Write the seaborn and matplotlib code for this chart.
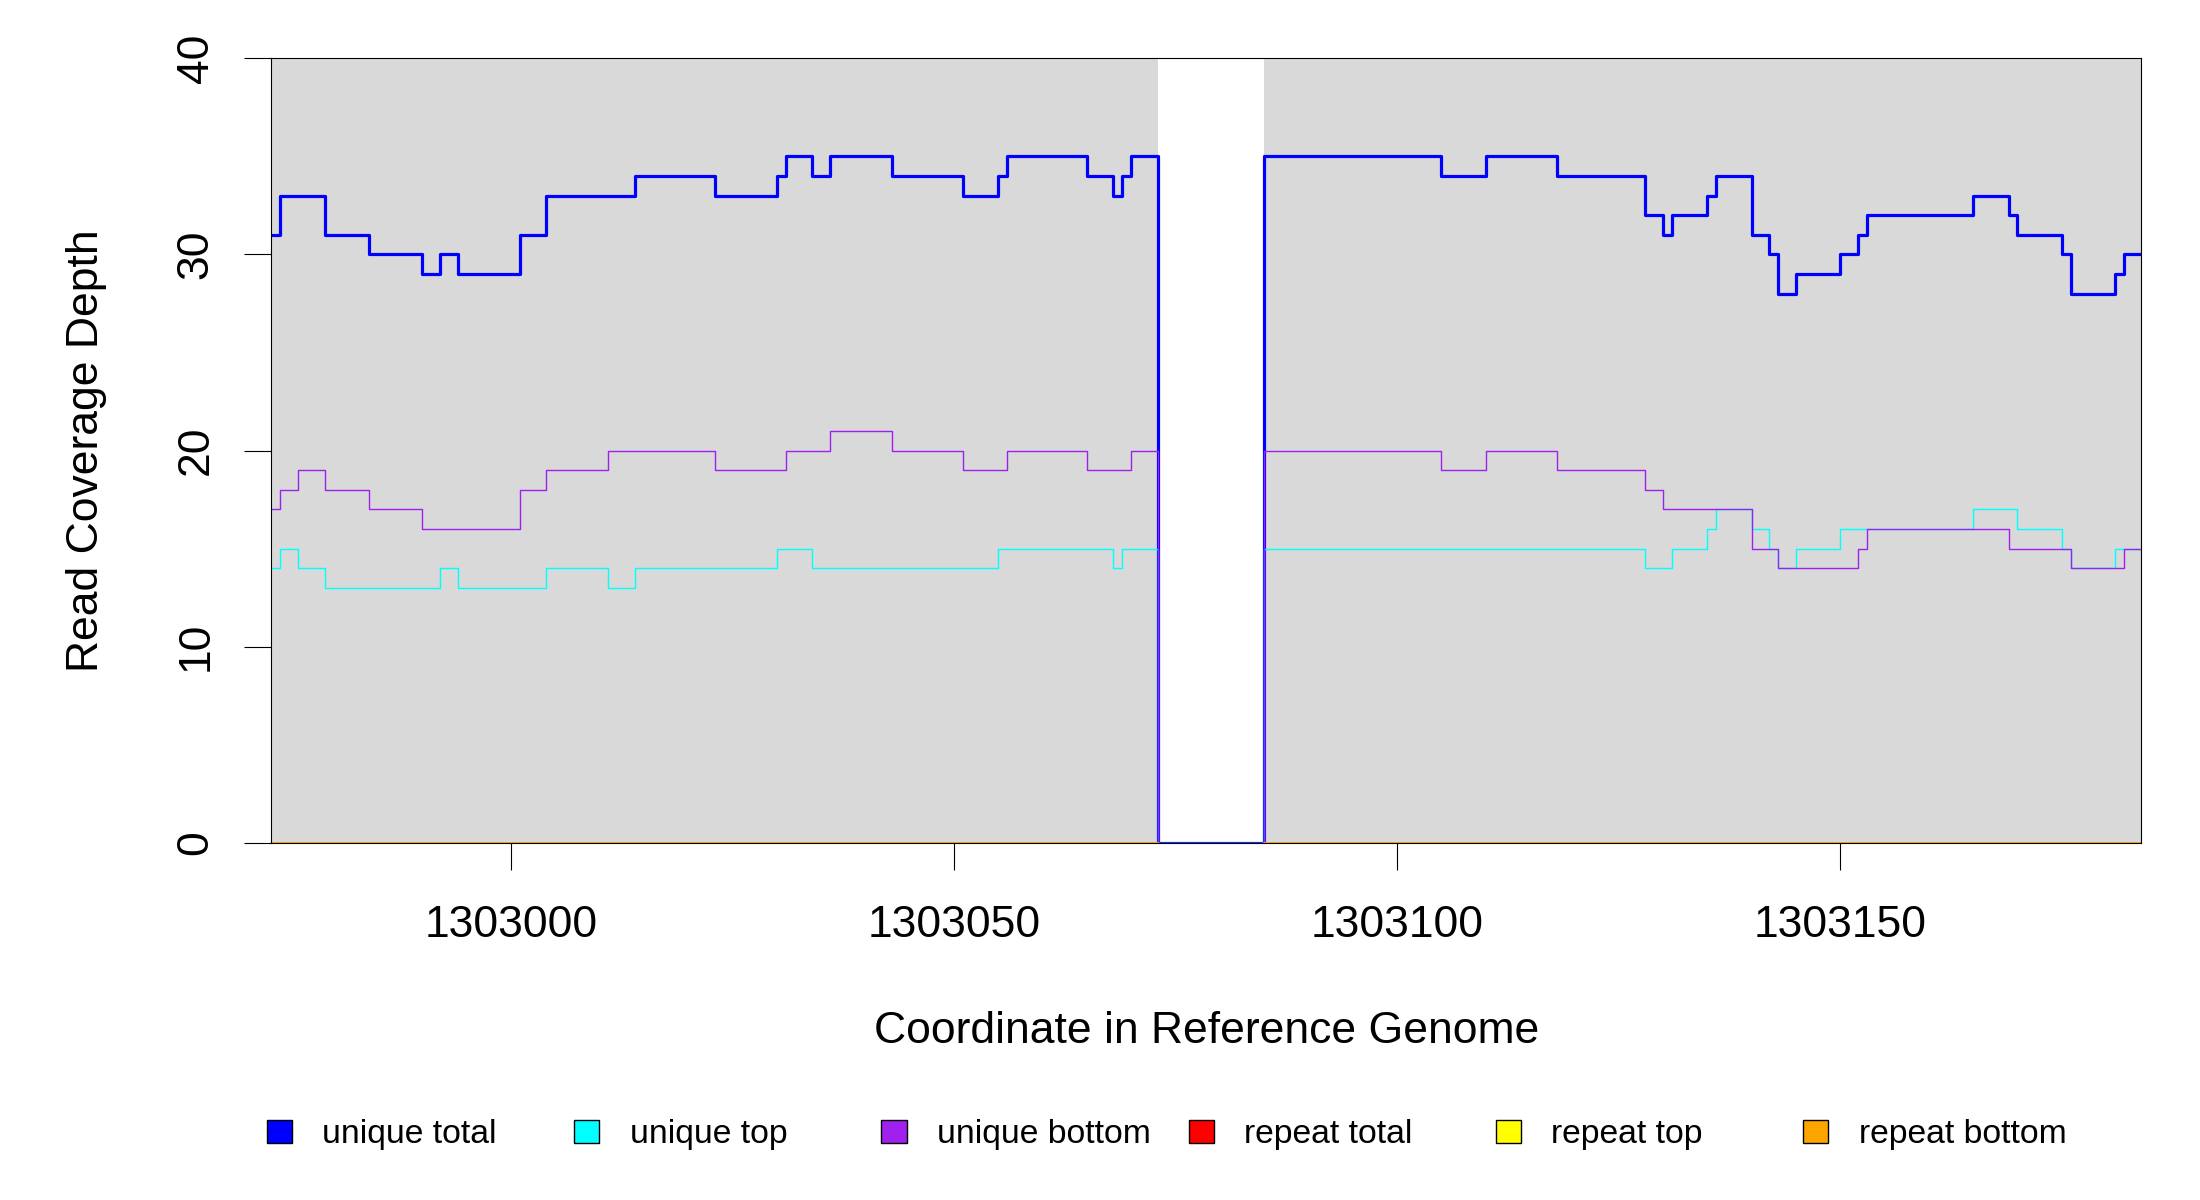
import numpy as np
import matplotlib
matplotlib.use("Agg")
import matplotlib.pyplot as plt
from matplotlib.patches import Patch
import seaborn as sns

# coverage steps: each value holds from its start position up to the next start
pos_end = 1303184

unique_total_starts = [1302973, 1302974, 1302979, 1302984, 1302990, 1302992, 1302994,
                       1303001, 1303004, 1303014, 1303023, 1303030, 1303031, 1303034,
                       1303036, 1303043, 1303051, 1303055, 1303056, 1303065, 1303068,
                       1303069, 1303070, 1303073, 1303085, 1303105, 1303110, 1303118,
                       1303128, 1303130, 1303131, 1303135, 1303136, 1303140, 1303142,
                       1303143, 1303145, 1303150, 1303152, 1303153, 1303165, 1303169,
                       1303170, 1303175, 1303176, 1303181, 1303182]
unique_total_depth = [31, 33, 31, 30, 29, 30, 29, 31, 33, 34, 33, 34, 35, 34, 35, 34,
                      33, 34, 35, 34, 33, 34, 35, 0, 35, 34, 35, 34, 32, 31, 32, 33,
                      34, 31, 30, 28, 29, 30, 31, 32, 33, 32, 31, 30, 28, 29, 30]

unique_top_starts = [1302973, 1302974, 1302976, 1302979, 1302992, 1302994, 1303004,
                     1303011, 1303014, 1303030, 1303034, 1303055, 1303068, 1303069,
                     1303073, 1303085, 1303128, 1303131, 1303135, 1303136, 1303140,
                     1303142, 1303143, 1303145, 1303150, 1303165, 1303170, 1303175,
                     1303176, 1303181]
unique_top_depth = [14, 15, 14, 13, 14, 13, 14, 13, 14, 15, 14, 15, 14, 15, 0, 15,
                    14, 15, 16, 17, 16, 15, 14, 15, 16, 17, 16, 15, 14, 15]

unique_bottom_starts = [1302973, 1302974, 1302976, 1302979, 1302984, 1302990, 1303001,
                        1303004, 1303011, 1303023, 1303031, 1303036, 1303043, 1303051,
                        1303056, 1303065, 1303070, 1303073, 1303085, 1303105, 1303110,
                        1303118, 1303128, 1303130, 1303140, 1303143, 1303152, 1303153,
                        1303169, 1303176, 1303182]
unique_bottom_depth = [17, 18, 19, 18, 17, 16, 18, 19, 20, 19, 20, 21, 20, 19, 20, 19,
                       20, 0, 20, 19, 20, 19, 18, 17, 15, 14, 15, 16, 15, 14, 15]

# repeat coverage is zero, with no data inside the unmapped gap
repeat_starts = [1302973, 1303073, 1303085]
repeat_total_depth = [0, np.nan, 0]
repeat_top_depth = [0, np.nan, 0]
repeat_bottom_depth = [0, np.nan, 0]

# covered regions (grey background)
covered_regions = [(1302973, 1303073), (1303085, 1303184)]

series_names = ["unique total", "unique top", "unique bottom",
                "repeat total", "repeat top", "repeat bottom"]
series_colors = ["#0000FF", "#00FFFF", "#A020F0", "#FF0000", "#FFFF00", "#FFA500"]
series_widths = [2.3, 1.0, 1.0, 1.0, 1.0, 1.4]
series_data = [
    (unique_total_starts, unique_total_depth),
    (unique_top_starts, unique_top_depth),
    (unique_bottom_starts, unique_bottom_depth),
    (repeat_starts, repeat_total_depth),
    (repeat_starts, repeat_top_depth),
    (repeat_starts, repeat_bottom_depth),
]


def step_segments(starts, depth):
    # split into runs of non-missing values, closing each run at the next start
    bounds = list(starts) + [pos_end]
    segs = []
    xs, ys = [], []
    for i, v in enumerate(depth):
        if np.isnan(v):
            if xs:
                xs.append(bounds[i])
                ys.append(ys[-1])
                segs.append((xs, ys))
            xs, ys = [], []
            continue
        xs.append(bounds[i])
        ys.append(v)
    if xs:
        xs.append(bounds[-1])
        ys.append(ys[-1])
        segs.append((xs, ys))
    return segs


sns.set_style("white")
plt.rcParams["font.family"] = ["Liberation Sans", "DejaVu Sans"]
plt.rcParams["text.color"] = "black"
plt.rcParams["axes.labelcolor"] = "black"

fig = plt.figure(figsize=(22, 12), dpi=100)
ax = fig.add_axes([0.1234, 0.2977, 0.8500, 0.6537])

for lo, hi in covered_regions:
    ax.axvspan(lo, hi, color="#D9D9D9", lw=0, zorder=0)

for (starts, depth), col, lw in zip(series_data, series_colors, series_widths):
    for xs, ys in step_segments(starts, depth):
        sns.lineplot(x=xs, y=ys, ax=ax, color=col, linewidth=lw,
                     drawstyle="steps-post", estimator=None, legend=False)

ax.set_xlim(1302973, pos_end)
ax.set_ylim(0, 40)
ax.set_xticks([1303000, 1303050, 1303100, 1303150])
ax.set_xticklabels(["1303000", "1303050", "1303100", "1303150"])
ax.set_yticks([0, 10, 20, 30, 40])
ax.set_yticklabels(["0", "10", "20", "30", "40"], rotation=90, va="center")

ax.tick_params(axis="both", direction="out", length=19.5, width=0.8,
               color="black", labelsize=32, labelcolor="black")
ax.tick_params(axis="x", pad=25)
ax.tick_params(axis="y", pad=20)
ax.tick_params(bottom=True, left=True)

for s in ax.spines.values():
    s.set_visible(True)
    s.set_color("black")
    s.set_linewidth(0.8)

ax.set_xlabel("Coordinate in Reference Genome", fontsize=32, va="center")
ax.set_ylabel("Read Coverage Depth", fontsize=32, va="center")
ax.xaxis.set_label_coords(0.5, -0.240)
ax.yaxis.set_label_coords(-0.0987, 0.5)

# legend: one entry per slot, evenly spaced along the bottom
slot_left = [266.7, 574.0, 881.2, 1188.5, 1495.8, 1803.0]
for name, col, xl in zip(series_names, series_colors, slot_left):
    h = Patch(facecolor=col, edgecolor="black", linewidth=1.0)
    fig.legend(handles=[h], labels=[name], loc="center left",
               bbox_to_anchor=(xl / 2200, 1 - 1135 / 1200), frameon=False,
               borderaxespad=0, borderpad=0, handlelength=0.75, handleheight=0.65,
               handletextpad=0.9, fontsize=24.3)

fig.savefig("out.png", dpi=100)
plt.close(fig)
